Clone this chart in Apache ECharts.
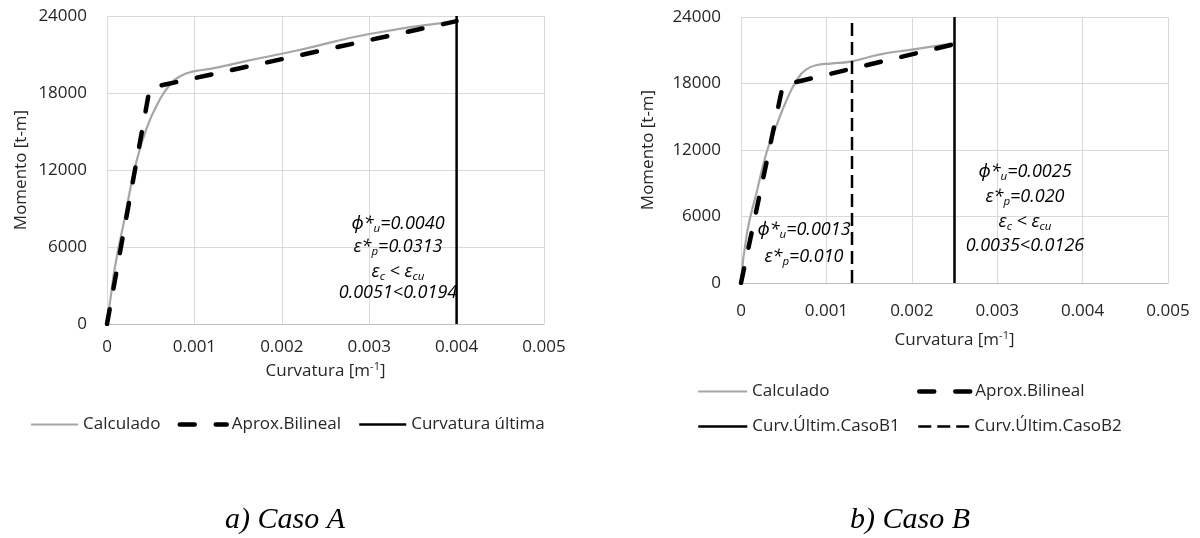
<!DOCTYPE html>
<html>
<head>
<meta charset="utf-8">
<script src="https://cdn.jsdelivr.net/npm/echarts@6/dist/echarts.min.js"></script>
<style>
  html, body { margin: 0; padding: 0; background: #ffffff; }
  #chart { width: 1200px; height: 538px; }
</style>
</head>
<body>
<div id="chart"></div>
<script>
// ---- Caso A : moment-curvature curve ----
const curvA = [0, 0.00004, 0.00009, 0.00021, 0.00032, 0.00045, 0.00059, 0.00072, 0.00085, 0.00099, 0.00121, 0.0016, 0.0022, 0.0030, 0.0040];
const momA  = [0, 2000, 4400, 8500, 12200, 15200, 17300, 18650, 19350, 19680, 19920, 20500, 21350, 22600, 23600];
// bilinear approximation (origin, yield, ultimate)
const bilCurvA = [0, 0.00049, 0.0040];
const bilMomA  = [0, 18400, 23600];
// ultimate curvature
const phiUltA = 0.0040;

// ---- Caso B : moment-curvature curve ----
const curvB = [0, 0.00007, 0.00019, 0.00030, 0.00042, 0.00054, 0.00066, 0.00076, 0.00088, 0.00105, 0.00128, 0.00163, 0.00202, 0.0025];
const momB  = [0, 4500, 8400, 11800, 14300, 16600, 18400, 19250, 19650, 19800, 19970, 20630, 21080, 21650];
const bilCurvB = [0, 0.00049, 0.0025];
const bilMomB  = [0, 17850, 21550];
const phiUltB1 = 0.0025;
const phiUltB2 = 0.0013;

// ---- axis scales ----
const X_MAX = 0.005, X_STEP = 0.001;
const Y_MAX = 24000, Y_STEP = 6000;

// ---- annotation texts ----
const notesA = [
  '{i|ϕ*}{s|u}{i|=0.0040}',
  '{i|ε*}{s|p}{i|=0.0313}',
  '{i|ε}{s|c}{i| < ε}{s|cu}',
  '{i|0.0051<0.0194}'
];
const notesB1 = [
  '{i|ϕ*}{s|u}{i|=0.0013}',
  '{i|ε*}{s|p}{i|=0.010}'
];
const notesB2 = [
  '{i|ϕ*}{s|u}{i|=0.0025}',
  '{i|ε*}{s|p}{i|=0.020}',
  '{i|ε}{s|c}{i| < ε}{s|cu}',
  '{i|0.0035<0.0126}'
];
const captions = ['a) Caso A', 'b) Caso B'];

const FONT = "'Open Sans', 'Noto Sans', sans-serif";
const TXT = '#262626';
const GRAY = '#a6a6a6';

function pairs(xs, ys) { return xs.map((x, i) => [x, ys[i]]); }
function vline(x) { return [[x, 0], [x, Y_MAX]]; }

function xAxisFor(gridIndex, labelMargin, nameGap) {
  return {
    type: 'value', gridIndex, min: 0, max: X_MAX, interval: X_STEP,
    axisLine: { show: true, lineStyle: { color: '#bfbfbf', width: 1 } },
    axisTick: { show: false },
    splitLine: { show: true, lineStyle: { color: '#d9d9d9', width: 1 } },
    axisLabel: {
      margin: labelMargin, color: TXT, fontSize: 17, fontFamily: FONT,
      formatter: v => (v === 0 ? '0' : v.toFixed(3))
    },
    name: 'Curvatura [m{sup|-1}]',
    nameLocation: 'middle', nameGap,
    nameTextStyle: {
      color: TXT, fontSize: 17, fontFamily: FONT, lineHeight: 20,
      rich: { sup: { fontSize: 11, fontFamily: FONT, color: TXT, verticalAlign: 'top', lineHeight: 11 } }
    }
  };
}
function yAxisFor(gridIndex, nameGap) {
  return {
    type: 'value', gridIndex, min: 0, max: Y_MAX, interval: Y_STEP,
    axisLine: { show: false },
    axisTick: { show: false },
    splitLine: { show: true, lineStyle: { color: '#d9d9d9', width: 1 } },
    axisLabel: { margin: 20, color: TXT, fontSize: 17, fontFamily: FONT, formatter: v => String(v) },
    name: 'Momento [t-m]', nameLocation: 'middle', nameGap,
    nameTextStyle: { color: TXT, fontSize: 17, fontFamily: FONT }
  };
}

const calcStyle = { color: GRAY, width: 2.2 };
const bilStyle = { color: '#000000', width: 4.5, type: [15, 21], cap: 'round' };
const ultStyle = { color: '#000000', width: 2.5 };
const ult2Style = { color: '#000000', width: 2.5, type: [13, 6] };

function lineSeries(name, axis, data, lineStyle, extra) {
  return Object.assign({
    name, type: 'line', xAxisIndex: axis, yAxisIndex: axis, data,
    symbol: 'none', showSymbol: false, lineStyle,
    itemStyle: { color: lineStyle.color }, emphasis: { disabled: true }
  }, extra || {});
}

const noteRich = {
  i: { fontSize: 18, fontFamily: FONT, fontStyle: 'italic', color: TXT, lineHeight: 22 },
  s: { fontSize: 11.5, fontFamily: FONT, fontStyle: 'italic', color: TXT, lineHeight: 12, verticalAlign: 'bottom' }
};
function noteBlock(lines, cx, ys) {
  return lines.map((l, k) => ({
    type: 'text', x: cx, y: ys[k], z: 50,
    style: { text: l, rich: noteRich, align: 'center', verticalAlign: 'middle' }
  }));
}

const legendText = { color: TXT, fontSize: 17, fontFamily: FONT };
function legendAt(names, left, top, itemWidth, itemGap) {
  return {
    data: names, left, top, orient: 'horizontal', padding: 0,
    itemWidth, itemHeight: 14, itemGap, selectedMode: false,
    itemStyle: { opacity: 0 },
    lineStyle: { width: 'inherit', type: 'inherit' },
    textStyle: legendText
  };
}

const option = {
  animation: false,
  backgroundColor: '#ffffff',
  grid: [
    { left: 107, top: 16, width: 437, height: 308 },
    { left: 741, top: 17, width: 427, height: 266 }
  ],
  xAxis: [xAxisFor(0, 15, 36), xAxisFor(1, 20, 47)],
  yAxis: [yAxisFor(0, 77), yAxisFor(1, 84)],
  legend: [
    legendAt(['Calculado', 'Aprox.Bilineal', 'Curvatura última'], 30, 416, 47, 17),
    legendAt(['Calculado'], 697, 383, 49, 10),
    legendAt(['Aprox.Bilineal'], 917, 383, 51, 10),
    legendAt(['Curv.Últim.CasoB1'], 697, 418, 49, 10),
    legendAt(['Curv.Últim.CasoB2'], 917, 418, 51, 10)
  ],
  series: [
    lineSeries('Calculado', 0, pairs(curvA, momA), calcStyle, { smooth: 0.5 }),
    lineSeries('Aprox.Bilineal', 0, pairs(bilCurvA, bilMomA), bilStyle),
    lineSeries('Curvatura última', 0, vline(phiUltA), ultStyle),
    lineSeries('Calculado', 1, pairs(curvB, momB), calcStyle, { smooth: 0.5 }),
    lineSeries('Aprox.Bilineal', 1, pairs(bilCurvB, bilMomB), bilStyle),
    lineSeries('Curv.Últim.CasoB1', 1, vline(phiUltB1), ultStyle),
    lineSeries('Curv.Últim.CasoB2', 1, vline(phiUltB2), ult2Style)
  ],
  graphic: [].concat(
    noteBlock(notesA, 398, [224, 247, 272, 293]),
    noteBlock(notesB1, 804, [230, 257]),
    noteBlock(notesB2, 1025, [172, 197, 222, 246]),
    [
      { type: 'text', x: 285, y: 520, style: { text: captions[0], align: 'center', verticalAlign: 'middle',
        fontSize: 30, fontFamily: "'Liberation Serif', serif", fontStyle: 'italic', fill: '#000000' } },
      { type: 'text', x: 910, y: 520, style: { text: captions[1], align: 'center', verticalAlign: 'middle',
        fontSize: 30, fontFamily: "'Liberation Serif', serif", fontStyle: 'italic', fill: '#000000' } }
    ]
  )
};

const chart = echarts.init(document.getElementById('chart'), null, { renderer: 'canvas' });
chart.setOption(option);
</script>
</body>
</html>
